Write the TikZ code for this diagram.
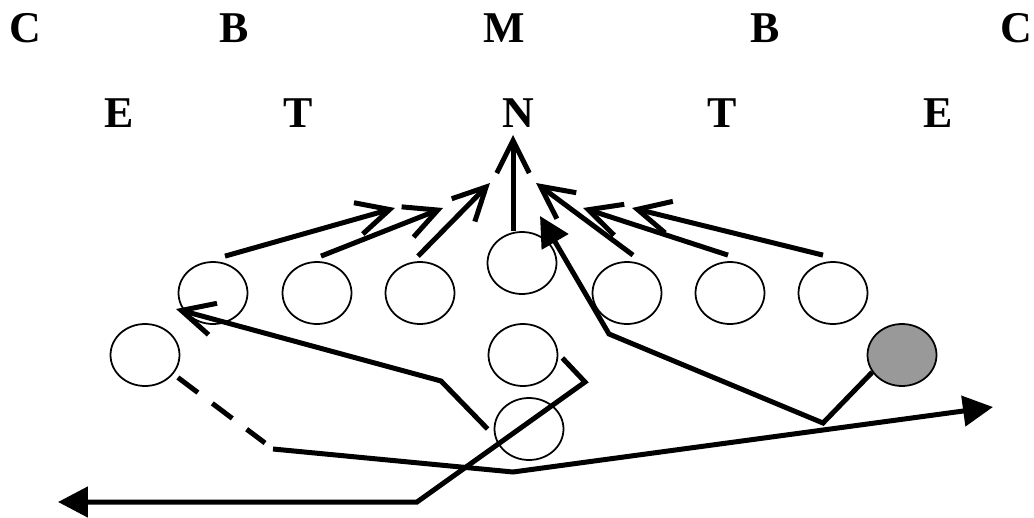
\documentclass[tikz,border=0pt]{standalone}
\usepackage{fontspec}
\setmainfont{Liberation Serif}
\usetikzlibrary{arrows.meta,shapes.geometric}

\begin{document}
\begin{tikzpicture}[
  x=0.02cm, y=-0.02cm,
  spot/.style={font=\bfseries\fontsize{25}{30}\selectfont, anchor=base, inner sep=0pt},
  man/.style={draw, ellipse, line width=1pt, minimum width=1.38cm, minimum height=1.24cm, inner sep=0pt, fill=white},
  route/.style={line width=0.1cm},
  openhead/.style={route, -{Straight Barb[length=6.5mm,width=6.5mm]}},
  solidhead/.style={route, -{Triangle[length=6mm,width=6mm]}}
]
\useasboundingbox (0,0) rectangle (1034,517);

\node[spot] (lc) at (25,43) {C};
\node[spot] (lb) at (234,43) {B};
\node[spot] (mb) at (504,43) {M};
\node[spot] (rb) at (765,43) {B};
\node[spot] (rc) at (1016,43) {C};
\node[spot] (le) at (119,128) {E};
\node[spot] (lt) at (298,128) {T};
\node[spot] (nt) at (518,128) {N};
\node[spot] (rt) at (722,128) {T};
\node[spot] (re) at (938,128) {E};

\foreach \x/\n in {213/l3, 317/l2, 420/l1, 627/r1, 730/r2, 833/r3}
  \node[man] (\n) at (\x,293) {};
\node[man] (c0) at (522,263) {};
\node[man] (w1) at (145,355) {};
\node[man] (c1) at (523,355) {};
\node[man, fill=black!40] (g1) at (902,355) {};
\node[man, fill=none] (c2) at (529,429) {};

\coordinate (a1) at (395,208);
\coordinate (a2) at (443,208);
\coordinate (a3) at (490,183);
\coordinate (a4) at (513,135);
\coordinate (a5) at (536,183);
\coordinate (a6) at (583,208);
\coordinate (a7) at (632,208);

\draw[openhead] ([shift={(12,-5)}]l3.north) -- (a1);
\draw[openhead] ([shift={(4,-5)}]l2.north) -- (a2);
\draw[openhead] ([shift={(-2,-5)}]l1.north) -- (a3);
\draw[openhead] ([shift={(-9,0)}]c0.north) -- (a4);
\draw[openhead] ([shift={(6,-6)}]r1.north) -- (a5);
\draw[openhead] ([shift={(-2,-6)}]r2.north) -- (a6);
\draw[openhead] ([shift={(-10,-6)}]r3.north) -- (a7);

\coordinate (k1) at (441,381);
\coordinate (k2) at (176,309);
\draw[openhead] ([shift={(-6,0)}]c2.west) -- (k1) -- (k2);

\coordinate (d1) at (265,443);
\coordinate (d2) at (273,449);
\coordinate (d3) at (513,472);
\coordinate (d4) at (993,407);
\draw[route, dash pattern=on 0.5cm off 0.36cm] ([shift={(5,3)}]w1.-35) -- (d1);
\draw[solidhead] (d2) -- (d3) -- (d4);

\coordinate (h1) at (585,382);
\coordinate (h2) at (417,502);
\coordinate (h3) at (58,502);
\draw[solidhead] ([shift={(4,3)}]c1.east) -- (h1) -- (h2) -- (h3);

\coordinate (g2) at (823,423);
\coordinate (g3) at (609,334);
\coordinate (g4) at (540,216);
\draw[solidhead] (g1.210) -- (g2) -- (g3) -- (g4);

\end{tikzpicture}
\end{document}
